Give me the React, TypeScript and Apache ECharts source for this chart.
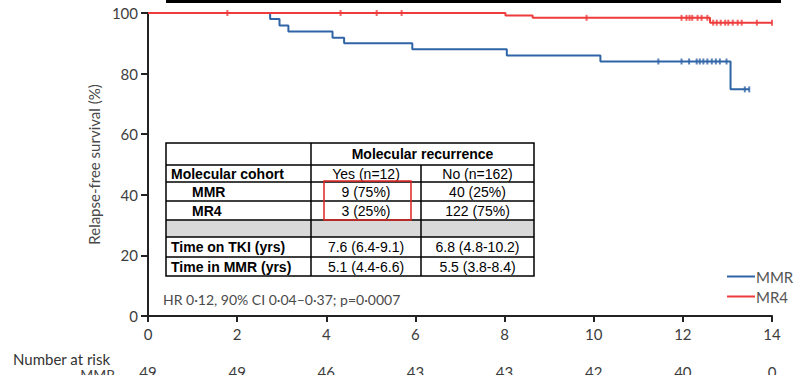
import React, { useEffect, useRef } from "react";
import * as echarts from "echarts";

// ---- Data ----
const xTicks = [0, 2, 4, 6, 8, 10, 12, 14];
const riskMMR = [49, 49, 46, 43, 43, 42, 40, 0];

// Kaplan–Meier steps (time in years, survival %)
const mmrTimes = [0, 2.74, 2.95, 3.15, 4.14, 4.4, 5.93, 8.05, 10.15, 13.07, 13.49];
const mmrSurv = [100, 98, 95.9, 93.9, 91.8, 90.0, 88.0, 86.0, 84.0, 74.8, 74.8];
const mmrCensorTimes = [11.45, 11.97, 12.14, 12.31, 12.38, 12.46, 12.55, 12.65, 12.74, 12.83, 12.98, 13.39, 13.49];
const mmrCensorSurv = [84, 84, 84, 84, 84, 84, 84, 84, 84, 84, 84, 74.8, 74.8];

const mr4Times = [0, 8.02, 8.63, 12.61, 14.0];
const mr4Surv = [100, 99.2, 98.4, 96.8, 96.8];
const mr4CensorTimes = [1.78, 4.32, 5.13, 5.69, 9.84, 11.97, 12.08, 12.15, 12.21, 12.33, 12.42, 12.55, 12.68, 12.76, 12.85, 12.95, 13.02, 13.12, 13.23, 13.32, 13.66, 14.0];
const mr4CensorSurv = [100, 100, 100, 100, 98.4, 98.4, 98.4, 98.4, 98.4, 98.4, 98.4, 98.4, 96.8, 96.8, 96.8, 96.8, 96.8, 96.8, 96.8, 96.8, 96.8, 96.8];

const seriesNames = ["MMR", "MR4"];
const hrText = "HR 0·12, 90% CI 0·04–0·37; p=0·0007";

// Table contents
const tableHeader = "Molecular recurrence";
const tableRowLabels = ["Molecular cohort", "MMR", "MR4", "", "Time on TKI (yrs)", "Time in MMR (yrs)"];
const tableYes = ["Yes (n=12)", "9 (75%)", "3 (25%)", "", "7.6 (6.4-9.1)", "5.1 (4.4-6.6)"];
const tableNo = ["No (n=162)", "40 (25%)", "122 (75%)", "", "6.8 (4.8-10.2)", "5.5 (3.8-8.4)"];

const BLUE = "#2f64a6";
const RED = "#ee3b3b";
const AX = "#3d3d3d";
const FONT = "Lato, 'Open Sans', sans-serif";
const TFONT = "'Liberation Sans', Arial, sans-serif";

export default function App() {
  const ref = useRef<HTMLDivElement>(null);
  useEffect(() => {
    if (!ref.current) return;
    const chart = echarts.init(ref.current, undefined, { renderer: "svg" });

    // table geometry
    const tx0 = 166, tx1 = 311, tx2 = 421, tx3 = 534;
    const rowY = [143, 165, 182, 201, 220, 237, 257, 276];
    const g: any[] = [];
    g.push({ type: "rect", shape: { x: tx0, y: rowY[4], width: tx3 - tx0, height: rowY[5] - rowY[4] }, style: { fill: "#d9d9d9" } });
    g.push({ type: "rect", shape: { x: tx0, y: rowY[0], width: tx3 - tx0, height: rowY[7] - rowY[0] }, style: { fill: "none", stroke: "#000", lineWidth: 1.5 } });
    for (let i = 1; i < rowY.length - 1; i++) {
      g.push({ type: "line", shape: { x1: tx0, y1: rowY[i], x2: tx3, y2: rowY[i] }, style: { stroke: "#000", lineWidth: 1.5 } });
    }
    g.push({ type: "line", shape: { x1: tx1, y1: rowY[0], x2: tx1, y2: rowY[7] }, style: { stroke: "#000", lineWidth: 1.5 } });
    g.push({ type: "line", shape: { x1: tx2, y1: rowY[1], x2: tx2, y2: rowY[7] }, style: { stroke: "#000", lineWidth: 1.5 } });
    g.push({ type: "text", x: (tx1 + tx3) / 2, y: (rowY[0] + rowY[1]) / 2, style: { text: tableHeader, font: `bold 14px ${TFONT}`, fill: "#000", align: "center", verticalAlign: "middle" } });
    for (let r = 0; r < tableRowLabels.length; r++) {
      const cy = (rowY[r + 1] + rowY[r + 2]) / 2;
      const indent = r === 1 || r === 2 ? 192 : 171;
      if (tableRowLabels[r]) g.push({ type: "text", x: indent, y: cy, style: { text: tableRowLabels[r], font: `bold 14px ${TFONT}`, fill: "#000", align: "left", verticalAlign: "middle" } });
      if (tableYes[r]) g.push({ type: "text", x: (tx1 + tx2) / 2, y: cy, style: { text: tableYes[r], font: `14px ${TFONT}`, fill: "#000", align: "center", verticalAlign: "middle" } });
      if (tableNo[r]) g.push({ type: "text", x: (tx2 + tx3) / 2, y: cy, style: { text: tableNo[r], font: `14px ${TFONT}`, fill: "#000", align: "center", verticalAlign: "middle" } });
    }
    g.push({ type: "rect", shape: { x: 324, y: 181, width: 87, height: 39 }, style: { fill: "none", stroke: "#e02424", lineWidth: 1.5 } });
    g.push({ type: "rect", shape: { x: 166, y: 0, width: 615, height: 3 }, style: { fill: "#000" } });
    g.push({ type: "text", x: 163, y: 299, style: { text: hrText, font: `14px ${FONT}`, fill: "#4a4a4a", align: "left", verticalAlign: "middle" } });
    g.push({ type: "text", x: 13, y: 359, style: { text: "Number at risk", font: `15px ${FONT}`, fill: "#333", align: "left", verticalAlign: "middle" } });
    g.push({ type: "text", x: 115, y: 374, style: { text: "MMR", font: `14px ${FONT}`, fill: "#444", align: "right", verticalAlign: "middle" } });

    chart.setOption({
      animation: false,
      grid: { left: 148, right: 32, top: 13, bottom: 59, containLabel: false, outerBoundsMode: "none" },
      legend: {
        data: seriesNames,
        orient: "vertical",
        left: 722,
        top: 264,
        icon: "rect",
        itemWidth: 28,
        itemHeight: 2,
        itemGap: 5,
        textStyle: { fontFamily: FONT, fontSize: 15, color: "#555", padding: [0, 0, 0, -4] },
      },
      xAxis: [
        {
          type: "value", min: 0, max: 14, interval: 2,
          axisLine: { lineStyle: { color: "#222", width: 2 } },
          axisTick: { show: true, length: 6, lineStyle: { color: "#222", width: 2 } },
          axisLabel: { color: AX, fontFamily: FONT, fontSize: 15, margin: 10 },
          splitLine: { show: false },
        },
        {
          type: "value", min: 0, max: 14, interval: 2, position: "bottom", offset: 40,
          axisLine: { show: false }, axisTick: { show: false }, splitLine: { show: false },
          axisLabel: { color: AX, fontFamily: FONT, fontSize: 15, margin: 8, formatter: (v: number) => String(riskMMR[xTicks.indexOf(v)] ?? "") },
        },
      ],
      yAxis: {
        type: "value", min: 0, max: 100, interval: 20,
        name: "Relapse-free survival (%)", nameLocation: "middle", nameGap: 41,
        nameTextStyle: { color: "#4a4a4a", fontFamily: FONT, fontSize: 15 },
        axisLine: { show: true, lineStyle: { color: "#222", width: 2 } },
        axisTick: { show: true, length: 7, lineStyle: { color: "#222", width: 2 } },
        axisLabel: { color: AX, fontFamily: FONT, fontSize: 15, margin: 10 },
        splitLine: { show: false },
      },
      series: [
        {
          name: "MMR", type: "line", step: "end", showSymbol: false, xAxisIndex: 0,
          data: mmrTimes.map((t, i) => [t, mmrSurv[i]]),
          lineStyle: { color: BLUE, width: 2 }, itemStyle: { color: BLUE }, z: 3,
        },
        {
          name: "MR4", type: "line", step: "end", showSymbol: false, xAxisIndex: 0,
          data: mr4Times.map((t, i) => [t, mr4Surv[i]]),
          lineStyle: { color: RED, width: 2 }, itemStyle: { color: RED }, z: 3,
        },
        {
          name: "MMR censored", type: "scatter", xAxisIndex: 0, symbol: "rect", symbolSize: [2, 6],
          data: mmrCensorTimes.map((t, i) => [t, mmrCensorSurv[i]]), itemStyle: { color: BLUE }, z: 4,
        },
        {
          name: "MR4 censored", type: "scatter", xAxisIndex: 0, symbol: "rect", symbolSize: [2, 6],
          data: mr4CensorTimes.map((t, i) => [t, mr4CensorSurv[i]]), itemStyle: { color: RED }, z: 4,
        },
      ],
      graphic: g,
    });
    return () => chart.dispose();
  }, []);
  return <div ref={ref} style={{ position: "fixed", left: 0, top: 0, width: 804, height: 375, background: "#fff" }} />;
}
